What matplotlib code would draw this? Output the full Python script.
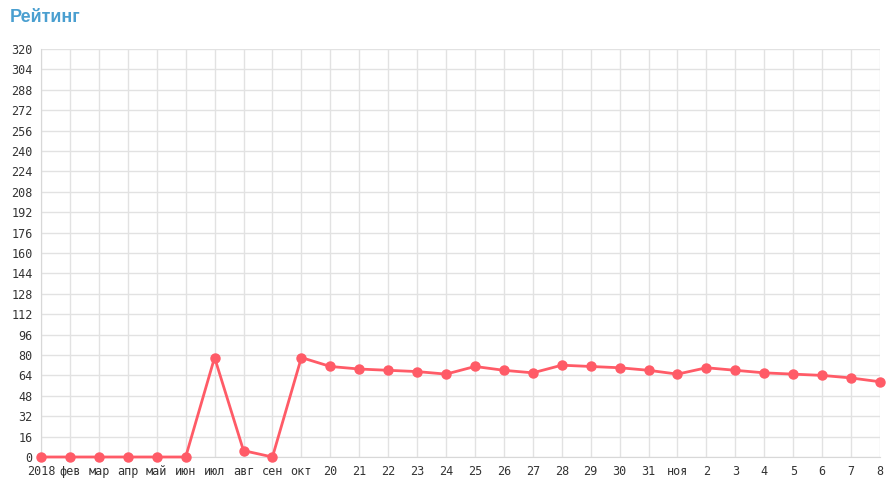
import matplotlib.pyplot as plt
import matplotlib as mpl

mpl.rcParams['font.family'] = 'DejaVu Sans Mono'

labels = ["2018", "фев", "мар", "апр", "май", "июн", "июл", "авг", "сен", "окт",
          "20", "21", "22", "23", "24", "25", "26", "27", "28", "29", "30", "31",
          "ноя", "2", "3", "4", "5", "6", "7", "8"]
rating = [0, 0, 0, 0, 0, 0, 78, 5, 0, 78,
          71, 69, 68, 67, 65, 71, 68, 66, 72, 71, 70, 68,
          65, 70, 68, 66, 65, 64, 62, 59]

y_ticks = list(range(0, 321, 16))

fig = plt.figure(figsize=(8.96, 4.94), dpi=100)
ax = fig.add_axes([41 / 896, 1 - 457 / 494, (880 - 41) / 896, (457 - 49) / 494])

x = list(range(len(labels)))
ax.plot(x, rating, '-o', color='#ff5b67', linewidth=2, markersize=6.5, zorder=3,
        clip_on=False)

ax.set_xlim(0, len(labels) - 1)
ax.set_ylim(0, 320)
ax.set_xticks(x)
ax.set_xticklabels(labels)
ax.set_yticks(y_ticks)
ax.grid(True, color='#e2e2e2', linewidth=1)
ax.set_axisbelow(True)
ax.tick_params(axis='both', length=0, labelsize=8.5, colors='#333333', pad=6)
for side in ['top', 'right']:
    ax.spines[side].set_visible(False)
for side in ['left', 'bottom']:
    ax.spines[side].set_color('#d8d8d8')

fig.text(10 / 896, 1 - 17 / 494, "Рейтинг", fontsize=13, fontweight='bold',
         color='#4a9fd0', family='Liberation Sans', va='center')

fig.savefig("out.png", dpi=100)
